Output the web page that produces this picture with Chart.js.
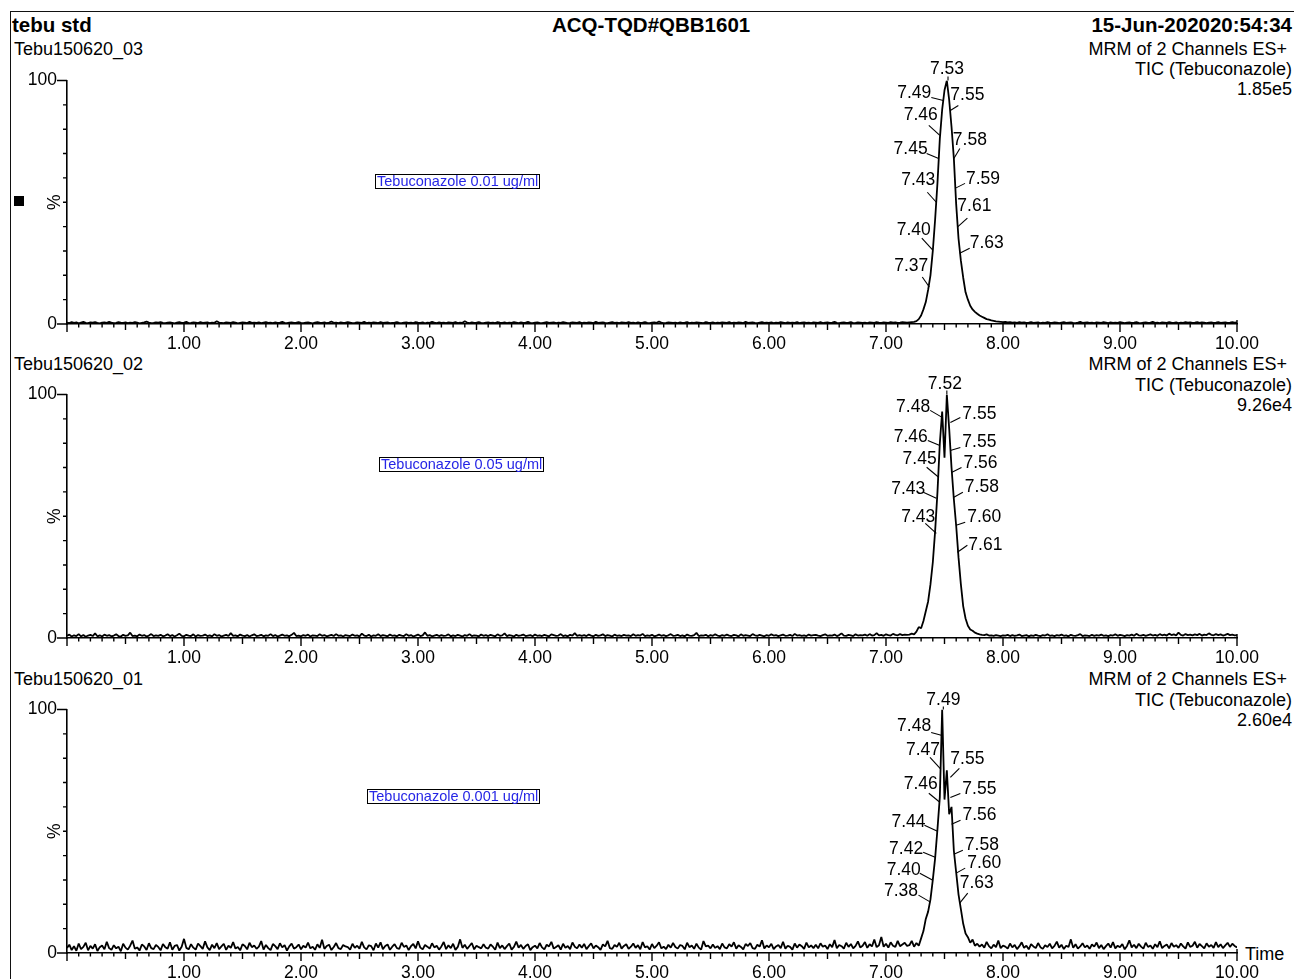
<!DOCTYPE html>
<html><head><meta charset="utf-8">
<script src="https://cdn.jsdelivr.net/npm/chart.js@4/dist/chart.umd.min.js"></script>
<style>
html,body{margin:0;padding:0;background:#fff;}
body{width:1294px;height:979px;overflow:hidden;position:relative;font-family:"Liberation Sans",Arial,sans-serif;color:#000;}
.t{position:absolute;white-space:nowrap;font-size:18px;line-height:20px;}
.b{font-weight:bold;font-size:20.5px;line-height:22px;}
.box{position:absolute;border:1.5px solid #000;background:#fff;color:#2626e6;font-size:14.5px;line-height:13px;padding:0 1px;white-space:nowrap;}
canvas{position:absolute;left:0;}
#frame{position:absolute;left:10px;top:11px;width:1300px;height:990px;border-left:1.5px solid #111;border-top:1.5px solid #111;}
#sq{position:absolute;left:14px;top:196px;width:10px;height:10px;background:#000;}
</style></head><body>
<div id="frame"></div>
<div class="t b" style="left:12px;top:14px;">tebu std</div>
<div class="t b" style="left:552px;top:14px;">ACQ-TQD#QBB1601</div>
<div class="t b" style="right:2px;top:14px;">15-Jun-202020:54:34</div>

<div class="t" style="left:14px;top:39px;">Tebu150620_03</div>
<div class="t" style="right:7px;top:39px;">MRM of 2 Channels ES+</div>
<div class="t" style="right:2px;top:59px;">TIC (Tebuconazole)</div>
<div class="t" style="right:2px;top:79px;">1.85e5</div>

<div class="t" style="left:14px;top:354px;">Tebu150620_02</div>
<div class="t" style="right:7px;top:354px;">MRM of 2 Channels ES+</div>
<div class="t" style="right:2px;top:375px;">TIC (Tebuconazole)</div>
<div class="t" style="right:2px;top:395px;">9.26e4</div>

<div class="t" style="left:14px;top:669px;">Tebu150620_01</div>
<div class="t" style="right:7px;top:669px;">MRM of 2 Channels ES+</div>
<div class="t" style="right:2px;top:690px;">TIC (Tebuconazole)</div>
<div class="t" style="right:2px;top:710px;">2.60e4</div>
<div class="t" style="left:1245px;top:944px;">Time</div>

<div id="sq"></div>

<canvas id="c1" width="1294" height="300" style="top:60px"></canvas>
<canvas id="c2" width="1294" height="300" style="top:374px"></canvas>
<canvas id="c3" width="1294" height="300" style="top:689px"></canvas>

<div class="box" style="left:375px;top:174px;">Tebuconazole 0.01 ug/ml</div>
<div class="box" style="left:379px;top:457px;">Tebuconazole 0.05 ug/ml</div>
<div class="box" style="left:367px;top:789px;">Tebuconazole 0.001 ug/ml</div>

<script>
// ---------- DATA ----------
// scan grid: 0.00 .. 10.00 min, one scan every 0.02 min
const scanStep = 0.02;
const scanCount = 501;

// Panel 1 (Tebu150620_03, 1.85e5) intensity, % of max
const p1Pre = [
0.6,0.4,0.8,0.5,0.7,0.3,0.6,0.9,0.5,0.4,0.7,0.6,0.8,0.5,0.3,0.6,0.7,0.5,0.9,0.6,
0.4,0.5,0.8,0.6,0.5,0.7,0.4,0.6,0.5,0.8,0.6,0.3,0.5,0.7,1.0,0.6,0.4,0.5,0.7,0.6,
0.8,0.5,0.4,0.6,0.7,0.5,0.3,0.6,0.8,0.5,0.6,0.9,0.4,0.5,0.7,0.6,0.4,0.8,0.5,0.6,
0.7,0.4,0.6,0.5,1.1,0.6,0.5,0.4,0.7,0.6,0.5,0.8,0.6,0.3,0.5,0.7,0.6,0.4,0.9,0.5,
0.6,0.5,0.7,0.4,0.6,0.8,0.5,0.6,0.4,0.7,0.5,0.6,0.9,0.5,0.4,0.6,0.7,0.5,0.6,0.8,
0.5,0.4,0.6,0.7,0.5,0.3,0.6,0.8,0.6,0.5,0.7,0.4,0.6,1.0,0.5,0.6,0.4,0.7,0.5,0.6,
0.8,0.6,0.4,0.5,0.7,0.6,0.5,0.9,0.4,0.6,0.5,0.7,0.6,0.4,0.8,0.5,0.6,0.7,0.4,0.5,
0.6,0.8,0.5,0.4,0.6,0.7,0.5,0.6,0.4,0.8,0.6,0.5,0.7,0.3,0.6,0.5,0.9,0.6,0.4,0.7,
0.5,0.6,0.4,0.7,0.6,0.5,0.8,0.4,0.6,0.5,1.1,0.6,0.4,0.7,0.5,0.6,0.8,0.5,0.4,0.6,
0.7,0.5,0.6,0.4,0.8,0.6,0.5,0.7,0.4,0.6,0.5,0.8,0.6,0.4,0.7,0.5,0.6,0.9,0.5,0.4,
0.6,0.7,0.5,0.4,0.6,0.8,0.5,0.6,0.7,0.4,0.6,0.5,0.8,0.6,0.4,0.5,0.7,0.6,0.5,0.8,
0.4,0.6,0.5,0.7,0.6,0.4,0.9,0.5,0.6,0.7,0.5,0.4,0.6,0.8,0.5,0.6,0.4,0.7,0.6,0.5,
0.8,0.5,0.6,0.4,0.7,0.5,0.6,0.8,0.5,0.4,0.6,0.7,0.5,1.0,0.6,0.4,0.5,0.7,0.6,0.5,
0.6,0.4,0.7,0.5,0.6,0.8,0.4,0.6,0.5,0.7,0.6,0.5,0.4,0.8,0.6,0.5,0.7,0.4,0.6,0.5,
0.7,0.6,0.5,0.8,0.4,0.6,0.5,0.7,0.6,0.4,0.9,0.5,0.6,0.7,0.5,0.4,0.6,0.8,0.5,0.6,
0.5,0.7,0.4,0.6,0.5,0.8,0.6,0.4,0.7,0.5,0.6,0.5,0.8,0.4,0.6,0.7,0.5,0.6,0.4,0.7,
0.6,0.5,0.8,0.4,0.6,0.7,0.5,0.6,0.9,0.5,0.4,0.6,0.7,0.5,0.6,0.8,0.4,0.5,0.7,0.6,
0.5,0.6,0.4,0.7,0.6,0.5,0.8,0.6,0.5,0.7,0.6,0.5,0.8,0.6,0.7,0.5,0.6,0.8,0.7,0.6];
const p1Peak = [0.7,0.8,0.9,1.2,2.0,3.5,6,9,14,20,30,43,58,76,88,96,100,92,81,68,49,35,26,19,13,10,7.5,6,5,4.2,3.5];
const p1Post = [
3.0,2.5,2.0,1.8,1.5,1.3,1.1,1.0,0.9,0.8,
0.9,0.7,0.8,0.6,0.7,0.5,0.8,0.6,0.7,0.5,0.6,0.8,0.5,0.6,0.7,0.4,0.6,0.5,0.8,0.6,
0.5,0.7,0.6,0.4,0.6,0.8,0.5,0.6,0.7,0.5,0.4,0.6,0.9,0.5,0.6,0.7,0.5,0.6,0.4,0.7,
0.6,0.5,0.8,0.6,0.4,0.7,0.5,0.6,0.5,0.8,0.6,0.4,0.6,0.7,0.5,0.6,0.8,0.5,0.4,0.6,
0.7,0.5,0.6,0.9,0.5,0.6,0.4,0.7,0.6,0.5,0.8,0.6,0.5,0.7,0.4,0.6,0.5,0.8,0.6,0.7,
0.5,0.6,0.8,0.5,0.7,0.6,0.4,0.6,0.7,0.5,0.6,0.8,0.5,0.6,0.7,0.5,0.6,0.8,0.6,0.7];

// Panel 2 (Tebu150620_02, 9.26e4)
const p2Pre = [
0.9,1.4,0.6,1.1,0.8,1.6,0.7,1.2,0.5,1.0,1.3,0.8,1.9,0.7,1.1,0.6,1.4,0.9,1.2,0.7,
1.0,1.5,0.8,0.6,1.3,0.9,1.1,2.2,0.8,1.0,0.7,1.4,0.9,1.2,0.6,1.0,1.6,0.8,1.1,0.9,
1.3,0.7,1.0,1.5,0.8,1.2,0.6,1.1,1.8,0.9,0.7,1.3,1.0,0.8,1.5,0.6,1.2,0.9,1.0,1.4,
0.8,1.1,0.7,1.6,0.9,1.2,0.6,1.0,1.3,0.8,2.0,0.9,1.1,0.7,1.4,1.0,0.8,1.2,0.6,1.1,
1.5,0.8,1.0,1.3,0.7,1.1,0.9,1.6,0.8,1.2,0.6,1.0,1.4,0.9,1.1,0.7,1.3,2.1,0.8,1.0,
0.7,1.2,0.9,1.4,0.6,1.1,1.0,0.8,1.5,0.9,1.2,0.7,1.0,1.3,0.8,1.6,0.9,1.1,0.6,1.2,
1.0,0.8,1.4,0.9,1.1,0.7,1.8,1.0,0.8,1.3,0.6,1.1,0.9,1.5,0.8,1.2,1.0,0.7,1.4,0.9,
1.1,0.7,1.3,1.0,0.8,1.6,0.9,1.2,0.6,1.0,1.4,0.8,1.1,2.3,0.9,1.2,0.7,1.0,1.3,0.8,
1.2,0.9,1.0,1.5,0.7,1.1,0.8,1.3,1.0,0.6,1.2,0.9,1.6,0.8,1.1,1.0,0.7,1.4,0.9,1.2,
0.8,1.3,1.0,0.7,1.5,0.9,1.1,1.9,0.8,1.2,1.0,0.6,1.3,0.9,1.1,1.4,0.8,1.0,1.2,0.7,
1.4,0.9,1.1,0.8,1.3,1.0,0.7,1.5,1.2,0.9,1.0,1.6,0.8,1.1,0.7,1.3,1.0,2.0,0.9,1.2,
0.9,1.2,0.8,1.4,1.0,0.7,1.3,0.9,1.1,1.5,0.8,1.2,1.0,0.6,1.4,0.9,1.1,0.8,1.3,1.0,
1.1,0.8,1.5,0.9,1.2,1.0,1.7,0.8,1.1,0.9,1.3,0.7,1.0,1.4,0.9,1.2,0.8,1.1,1.6,0.9,
1.0,1.3,0.8,1.1,0.7,1.4,1.0,0.9,1.2,2.1,0.8,1.1,1.0,1.3,0.7,1.2,0.9,1.5,1.0,0.8,
1.2,0.9,1.4,1.0,0.8,1.3,1.1,0.7,1.5,0.9,1.2,1.0,0.8,1.6,1.1,0.9,1.3,1.0,0.7,1.2,
0.9,1.5,1.0,1.2,0.8,1.1,1.4,0.9,1.0,1.3,0.8,1.7,1.0,1.2,0.9,1.1,0.8,1.4,1.0,1.2,
1.3,1.0,0.8,1.2,1.5,0.9,1.1,1.0,1.4,0.8,1.2,1.9,1.0,0.9,1.3,1.1,0.8,1.5,1.0,1.2,
1.1,1.4,0.9,1.6,1.0,1.2,2.0,1.1,1.3,0.9,1.5,1.2,1.0,1.7,1.3,1.1,1.6,1.2,1.4,1.3];
const p2Peak = [1.4,1.8,1.5,2.6,4.5,4.0,7,11,15,22,31,44,60,80,93,74,100,86,70,57,46,33,22,13,8,5,3.5,3.0,2.2,1.8,1.5];
const p2Post = [
1.3,1.2,1.5,1.0,1.1,0.9,1.2,1.0,0.8,1.1,
1.0,1.3,0.8,1.2,0.9,1.1,1.4,0.8,1.0,1.2,0.7,1.1,0.9,1.3,1.0,0.8,1.2,1.0,1.5,0.9,
1.1,0.8,1.2,1.0,1.4,0.9,1.1,0.7,1.3,1.0,0.9,1.2,1.6,0.8,1.1,1.0,0.8,1.3,0.9,1.2,
1.0,1.4,0.9,1.1,0.8,1.2,1.0,1.5,0.9,1.3,1.1,0.8,1.2,1.0,1.4,0.9,1.7,1.1,1.0,1.3,
0.9,1.2,1.5,1.0,1.3,0.9,1.6,1.1,1.4,1.0,1.8,1.2,1.5,1.1,2.2,1.3,1.0,1.6,1.2,1.4,
1.1,1.5,1.2,1.7,1.0,1.4,1.2,1.9,1.3,1.1,1.6,1.2,1.5,1.0,1.3,1.7,1.2,1.4,1.1,1.2];

// Panel 3 (Tebu150620_01, 2.60e4)
const p3Pre = [
2.1,3.4,1.2,2.8,0.9,3.9,1.6,2.5,4.2,1.1,2.9,1.8,3.6,0.8,2.4,3.1,1.5,4.6,2.0,1.3,
3.2,1.9,2.6,0.7,3.8,2.2,1.4,3.0,5.1,1.7,2.3,1.0,3.5,2.7,1.2,4.0,2.0,1.6,3.3,2.5,
1.1,3.7,2.4,1.8,4.4,1.3,2.9,3.3,1.0,2.6,5.8,2.1,1.5,3.6,2.2,1.4,3.9,2.8,1.7,4.8,
2.3,1.2,3.4,2.0,4.1,1.6,2.7,3.8,1.3,3.0,2.1,4.5,1.8,2.5,1.1,3.6,2.9,1.5,4.2,2.4,
3.1,1.7,2.6,4.9,1.4,3.3,2.0,1.2,3.7,2.8,1.6,4.0,2.3,3.2,1.0,2.7,3.9,1.8,2.4,3.5,
1.5,3.0,2.2,4.3,1.9,2.6,1.3,3.6,2.1,5.4,1.7,2.9,3.4,1.2,2.5,4.1,2.0,1.6,3.3,2.7,
2.4,1.4,3.8,2.1,3.0,1.8,4.6,2.3,1.5,3.2,2.8,1.1,3.9,2.2,4.4,1.6,2.9,3.5,1.3,2.6,
3.6,2.0,1.7,4.2,2.5,3.1,1.2,2.8,3.7,1.9,4.8,2.2,1.5,3.3,2.6,1.8,4.0,2.3,3.0,1.4,
2.7,4.5,1.6,3.2,2.0,3.8,1.3,2.5,5.6,2.1,3.4,1.7,2.9,4.1,1.5,3.0,2.4,1.9,3.6,2.2,
1.8,3.5,2.6,1.3,4.3,2.0,3.1,1.6,2.8,3.9,1.4,2.5,4.7,2.2,3.3,1.7,2.9,3.6,1.2,2.4,
3.0,1.9,4.1,2.3,1.5,3.4,2.7,4.6,1.8,2.5,3.2,1.4,3.8,2.1,2.9,1.6,4.3,2.6,1.9,3.5,
2.2,3.7,1.6,2.8,4.0,1.9,3.1,2.4,1.3,3.5,2.7,5.0,2.0,1.7,3.3,2.5,4.2,1.8,2.9,3.6,
1.7,2.6,3.9,2.1,3.2,1.5,4.5,2.3,2.8,1.4,3.7,2.0,3.0,4.4,1.9,2.6,1.6,3.4,2.2,4.1,
2.5,1.8,3.3,2.9,1.5,4.2,2.4,3.1,1.7,3.8,2.2,1.4,4.9,2.7,3.0,1.9,3.5,2.1,2.8,1.6,
3.9,2.3,1.9,3.6,2.6,4.4,1.8,3.2,2.5,1.5,3.7,2.9,4.1,2.0,1.7,3.4,2.6,5.2,1.9,3.1,
2.4,3.8,1.6,2.7,3.3,2.0,4.6,1.8,3.0,2.5,1.4,3.9,2.2,3.5,2.8,1.7,4.3,2.3,3.1,2.0,
3.4,1.9,4.0,2.6,3.1,1.6,3.6,2.4,5.3,2.0,3.3,2.8,1.8,4.2,2.5,3.7,1.9,2.9,4.8,2.3,
3.0,4.5,2.1,3.6,2.7,5.5,2.4,3.2,6.6,2.6,3.8,2.2,4.4,3.0,2.5,5.0,2.8,3.5,4.2,2.9];
const p3Peak = [3.2,5.0,2.6,4.1,3.0,6.0,9,14,17,22,30,39,51,64,100,63,75,57,60,42,33,24,18,12,8,6.5,4.2,5.5,3.0,3.8,2.6];
const p3Post = [
3.5,2.2,4.6,2.8,1.9,3.4,2.4,5.1,2.0,3.0,
2.6,1.8,3.9,2.3,3.3,1.6,2.8,4.4,2.1,3.0,1.5,3.6,2.7,2.0,4.1,2.4,1.7,3.2,2.5,3.8,
1.9,2.9,4.7,2.2,3.4,1.6,3.0,2.5,5.6,2.1,3.6,1.8,2.7,4.0,2.3,3.1,1.7,3.5,2.6,4.3,
2.0,3.3,1.6,2.8,3.9,2.2,4.5,1.9,3.0,2.4,3.7,1.5,2.9,5.2,2.3,3.4,2.0,3.8,2.6,1.8,
4.2,2.5,3.1,1.7,3.6,2.4,4.8,2.0,2.9,3.5,1.9,4.1,2.6,3.2,2.1,3.9,2.7,1.8,4.4,2.5,
3.0,4.6,2.2,3.7,2.8,1.9,4.0,2.6,3.3,2.1,4.5,2.4,3.6,2.0,3.1,4.2,2.5,3.8,2.9,2.3];

// Peak annotations: retention time labels and the intensity (%) where their leader meets the trace
const p1LabelTimes  = [7.53, 7.49, 7.46, 7.45, 7.43, 7.40, 7.37, 7.55, 7.58, 7.59, 7.61, 7.63];
const p1LabelLevels = [100, 91.8, 77.5, 68.0, 50.0, 30.3, 15.2, 87.7, 68.0, 55.7, 39.8, 29.1];
const p2LabelTimes  = [7.52, 7.48, 7.55, 7.46, 7.55, 7.45, 7.56, 7.43, 7.58, 7.43, 7.60, 7.61];
const p2LabelLevels = [100, 90.6, 88.5, 79.1, 77.0, 66.0, 68.0, 57.4, 57.8, 43.0, 46.3, 35.2];
const p3LabelTimes  = [7.49, 7.48, 7.47, 7.55, 7.46, 7.55, 7.56, 7.44, 7.58, 7.42, 7.60, 7.40, 7.63, 7.38];
const p3LabelLevels = [100, 89.3, 75.4, 72.1, 61.9, 63.9, 52.9, 50.0, 40.6, 39.3, 32.8, 29.9, 20.5, 20.9];

// ---------- LAYOUT of annotations (side, leader dx, dy, text dx, dy in px) ----------
const p1LabelLayout = [['T',0,-4,-1,-11],['L',-12,-3,-12,-7.5],['L',-11,-10,-2,-20],['L',-12,-5,-11,-9],['L',-9,-10,-1,-22],['L',-11,-12,-2,-20],['L',-7,-10,-1,-20.5],['R',8,-5,0,-15],['R',6,-10,-1,-18],['R',10,-5,11,-9.5],['R',10,-9,0,-20.5],['R',10,-5,10,-9.5]];
const p2LabelLayout = [['T',0,-4,-2,-10],['L',-12,-7,-12,-10.5],['R',10,-5,12,-8.5],['L',-12,-5,-12,-8.5],['R',10,-3,12,-8.5],['L',-12,-10,-2,-18.5],['R',10,-5,12,-9],['L',-13,-6,-11,-9.5],['R',9,-5,11,-10.5],['L',-11,-10,-1,-16.5],['R',9,-3,11,-8.5],['R',10,-7,11,-7]];
const p3LabelLayout = [['T',0,-3,0,-9],['L',-11,-3,-11,-9],['L',-11,-12,-1,-19],['R',9,-9,0,-18.5],['L',-11,-9,-2,-18.5],['R',10,-4,12,-8.5],['R',9,-4,11,-9],['L',-13,-6,-12,-9.5],['R',9,-4,11,-9],['L',-12,-5,-12,-8.5],['R',9,-5,11,-9.5],['L',-13,-7,-12,-10],['R',8,-10,0,-19.5],['L',-12,-7,-12.5,-10.5]];

// ---------- CHART ----------
const FONT = '"Liberation Sans", Arial, sans-serif';
const scanTimes = Array.from({length: scanCount}, (_, i) => Math.round(i * scanStep * 100) / 100);

const tickMarks = {
  id: 'tickMarks',
  afterDraw(chart) {
    const {ctx, scales: {x, y}} = chart;
    ctx.save();
    ctx.strokeStyle = '#000';
    ctx.lineWidth = 1.4;
    ctx.beginPath();
    x.ticks.forEach(tk => {
      const k = Math.round(tk.value * 10);
      const px = x.getPixelForValue(tk.value);
      const len = k % 10 === 0 ? 8 : (k % 5 === 0 ? 6 : 3.5);
      const up = k === 100 ? 4 : 0;
      ctx.moveTo(px, x.top - up);
      ctx.lineTo(px, x.top + len);
    });
    y.ticks.forEach(tk => {
      const py = y.getPixelForValue(tk.value);
      const len = (tk.value === 0 || tk.value === 100) ? 10 : 4;
      ctx.moveTo(y.right - len, py);
      ctx.lineTo(y.right, py);
    });
    ctx.stroke();
    ctx.restore();
  }
};

function annotatePlugin(times, levels, layout) {
  return {
    id: 'annotate',
    afterDatasetsDraw(chart) {
      const {ctx, scales: {x, y}} = chart;
      ctx.save();
      ctx.font = '17.5px ' + FONT;
      ctx.fillStyle = '#000';
      ctx.strokeStyle = '#000';
      ctx.lineWidth = 1.1;
      ctx.textBaseline = 'middle';
      times.forEach((t, i) => {
        const [side, lx, ly, tx, ty] = layout[i];
        const px = x.getPixelForValue(t), py = y.getPixelForValue(levels[i]);
        ctx.beginPath();
        ctx.moveTo(px + lx, py + ly);
        ctx.lineTo(px, py);
        ctx.stroke();
        ctx.textAlign = side === 'L' ? 'right' : (side === 'R' ? 'left' : 'center');
        ctx.fillText(t.toFixed(2), px + tx, py + ty);
      });
      ctx.restore();
    }
  };
}

function makePanel(id, values, times, levels, layout) {
  if (values.length !== scanTimes.length) {
    setTimeout(() => { throw new Error(id + ' length ' + values.length); });
  }
  const pts = scanTimes.map((t, i) => ({x: t, y: values[i]}));
  return new Chart(document.getElementById(id), {
    type: 'line',
    data: {datasets: [{
      data: pts, borderColor: '#000', borderWidth: 1.8, pointRadius: 0,
      tension: 0, fill: false, borderJoinStyle: 'bevel'
    }]},
    options: {
      responsive: false, animation: false, events: [],
      layout: {padding: {left: 0, right: 57, top: 20, bottom: 0}},
      plugins: {legend: {display: false}, tooltip: {enabled: false}},
      scales: {
        x: {
          type: 'linear', min: 0, max: 10,
          afterFit(s) { s.height = 36; },
          grid: {display: false, drawTicks: false},
          border: {display: true, color: '#000', width: 1.6},
          ticks: {
            stepSize: 0.1, autoSkip: false, maxRotation: 0, minRotation: 0, padding: 10,
            color: '#000', font: {family: FONT, size: 17.5},
            callback(v) { return (Math.abs(v - Math.round(v)) < 1e-6 && Math.round(v) > 0) ? Math.round(v).toFixed(2) : ''; }
          }
        },
        y: {
          type: 'linear', min: 0, max: 100,
          afterFit(s) { s.width = 67; },
          grid: {display: false, drawTicks: false},
          border: {display: true, color: '#000', width: 1.6},
          title: {display: true, text: '%', color: '#000', font: {family: FONT, size: 17.5}, padding: {top: 45, bottom: 0}},
          ticks: {
            stepSize: 10, autoSkip: false, padding: 10,
            color: '#000', font: {family: FONT, size: 17.5},
            callback(v) { return (v === 0 || v === 100) ? String(v) : ''; }
          }
        }
      }
    },
    plugins: [tickMarks, annotatePlugin(times, levels, layout)]
  });
}

makePanel('c1', p1Pre.concat(p1Peak, p1Post), p1LabelTimes, p1LabelLevels, p1LabelLayout);
makePanel('c2', p2Pre.concat(p2Peak, p2Post), p2LabelTimes, p2LabelLevels, p2LabelLayout);
makePanel('c3', p3Pre.concat(p3Peak, p3Post), p3LabelTimes, p3LabelLevels, p3LabelLayout);
</script>
</body></html>
